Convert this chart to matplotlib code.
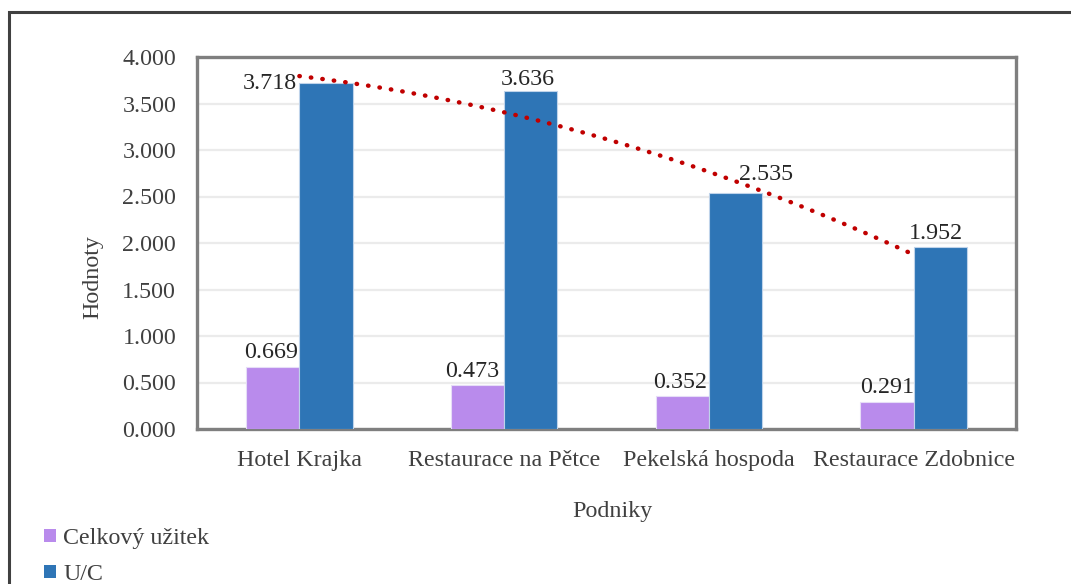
import numpy as np
import matplotlib
matplotlib.use("Agg")
import matplotlib.pyplot as plt
from matplotlib.patches import Patch, Rectangle

categories = ["Hotel Krajka", "Restaurace na Pětce", "Pekelská hospoda", "Restaurace Zdobnice"]
celkovy_uzitek = [0.669, 0.473, 0.352, 0.291]
u_c = [3.718, 3.636, 2.535, 1.952]
series_names = ["Celkový užitek", "U/C"]
yticks = [0.0, 0.5, 1.0, 1.5, 2.0, 2.5, 3.0, 3.5, 4.0]

plt.rcParams["font.family"] = ["Liberation Serif", "DejaVu Serif"]
FS = 17.3
TXT = "#404040"

W, H = 1071, 584
fig = plt.figure(figsize=(W / 100, H / 100), dpi=100)
fig.patch.set_facecolor("white")

# outer chart border (only top/left visible in reference)
fig.add_artist(Rectangle((8.5 / W, -0.1), 1.2, (H - 12) / H + 0.1, transform=fig.transFigure,
                         fill=False, edgecolor="#404040", linewidth=2.2))

ax = fig.add_axes([197 / W, 1 - 429 / H, 819 / W, 372 / H])
x = np.arange(len(categories))
bw = 0.26
c1, c2 = "#B98BEC", "#2E75B6"
b1 = ax.bar(x - bw / 2, celkovy_uzitek, bw, color=c1, edgecolor="#E6DDF7", linewidth=0.8, zorder=3)
b2 = ax.bar(x + bw / 2, u_c, bw, color=c2, edgecolor="#BFD3EA", linewidth=0.8, zorder=3)

# polynomial (order 2) trendline of U/C
coef = np.polyfit(x, u_c, 2)
xs = np.linspace(x[0], x[-1], 200)
ax.plot(xs, np.polyval(coef, xs), color="#C00000", linestyle=(0, (0.1, 2.5)),
        linewidth=3.2, dash_capstyle="round", zorder=4)

ax.set_xlim(-0.5, len(categories) - 0.5)
ax.set_ylim(0, 4.0)
ax.set_yticks(yticks)
ax.set_yticklabels([f"{v:.3f}" for v in yticks], fontsize=FS, color=TXT)
ax.set_xticks(x)
ax.set_xticklabels(categories, fontsize=FS, color=TXT)
ax.tick_params(axis="x", length=0, pad=15)
ax.tick_params(axis="y", length=0, pad=15)
ax.grid(axis="y", color="#EBEBEB", linewidth=1.6, zorder=0)
for s in ax.spines.values():
    s.set_edgecolor("#7F7F7F")
    s.set_linewidth(2.4)

# data labels
off1 = [(-2, 14), (-5, 14), (-2, 14), (0, 14)]
for i, (b, v) in enumerate(zip(b1, celkovy_uzitek)):
    ax.annotate(f"{v:.3f}", (b.get_x() + b.get_width() / 2, v), xytext=off1[i], textcoords="offset pixels",
                ha="center", va="center", fontsize=FS, color="#262626", zorder=5)
lab2 = [dict(xy_off=(-3, 0), ha="right"), dict(xy_off=(-3, 11), ha="center"),
        dict(xy_off=(31, 19), ha="center"), dict(xy_off=(-4, 14), ha="center")]
for i, (b, v) in enumerate(zip(b2, u_c)):
    xx = b.get_x() if i == 0 else b.get_x() + b.get_width() / 2
    ax.annotate(f"{v:.3f}", (xx, v), xytext=lab2[i]["xy_off"], textcoords="offset pixels",
                ha=lab2[i]["ha"], va="center", fontsize=FS, color="#262626", zorder=5)

fig.text(93 / W, 1 - 277 / H, "Hodnoty", rotation=90, ha="center", va="center", fontsize=FS, color=TXT)
fig.text(612 / W, 1 - 512 / H, "Podniky", ha="center", va="center", fontsize=FS, color=TXT)

handles = [Patch(facecolor=c1, edgecolor="none"), Patch(facecolor=c2, edgecolor="none")]
fig.legend(handles, series_names, loc="upper left", bbox_to_anchor=(44 / W, 1 - 528 / H),
           frameon=False, fontsize=FS, labelcolor=TXT, handlelength=0.5, handleheight=0.5,
           handletextpad=0.3, labelspacing=0.62, borderpad=0, borderaxespad=0)

fig.savefig("out.png", dpi=100, facecolor="white")
